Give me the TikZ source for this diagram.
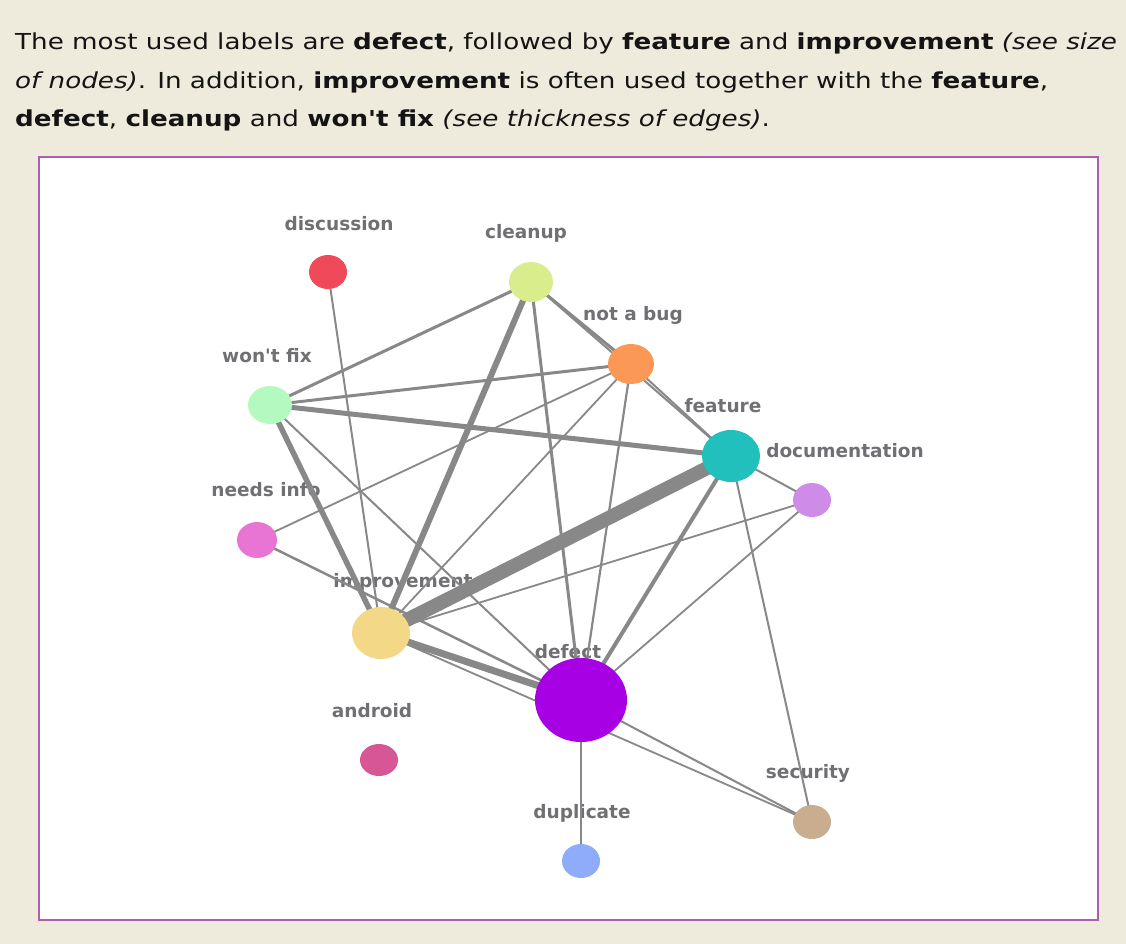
\documentclass[tikz,border=0pt]{standalone}
\usepackage{graphicx}
\usepackage{fontspec}
\setmainfont{DejaVu Sans}
\usetikzlibrary{shapes.geometric}
\pgfdeclarelayer{bg}
\pgfdeclarelayer{labels}
\pgfdeclarelayer{edges}
\pgfsetlayers{bg,labels,edges,main}
\definecolor{bgcol}{RGB}{238,234,220}
\definecolor{boxcol}{RGB}{176,92,176}
\definecolor{edgecol}{RGB}{136,136,136}
\definecolor{labcol}{RGB}{112,112,116}
\definecolor{cdiscussion}{RGB}{240,74,90}
\definecolor{ccleanup}{RGB}{218,237,140}
\definecolor{cnotabug}{RGB}{252,152,85}
\definecolor{cwontfix}{RGB}{180,250,192}
\definecolor{cfeature}{RGB}{34,192,188}
\definecolor{cdoc}{RGB}{206,140,232}
\definecolor{cneeds}{RGB}{232,116,212}
\definecolor{cimpr}{RGB}{242,216,135}
\definecolor{cdefect}{RGB}{168,0,228}
\definecolor{candroid}{RGB}{214,86,150}
\definecolor{csecurity}{RGB}{202,172,142}
\definecolor{cdup}{RGB}{143,172,250}
\newcommand{\hstretch}[1]{\scalebox{1.19}[1]{#1}}
\tikzset{
  x=1pt, y=-1pt,
  hdr/.style={anchor=base west, inner sep=0pt, text=black!92, font=\fontsize{22}{28}\selectfont},
  lab/.style={inner sep=0pt, text=labcol, font=\bfseries\fontsize{18.5}{22}\selectfont},
  gnode/.style={ellipse, draw=none, inner sep=0pt},
  edge/.style={draw=edgecol, line width=#1},
  edge/.default=2
}
\begin{document}
\begin{tikzpicture}
\begin{pgfonlayer}{bg}
\fill[bgcol] (0,0) rectangle (1126,944);
\draw[boxcol, line width=2, fill=white] (39,157) rectangle (1098,920);
\end{pgfonlayer}
% header
\node[hdr] (h1) at (15,50) {\hstretch{The most used labels are \textbf{defect}, followed by \textbf{feature} and \textbf{improvement} \textit{(see size}}};
\node[hdr] (h2) at (15,89) {\hstretch{\textit{of nodes)}. In addition, \textbf{improvement} is often used together with the \textbf{feature},}};
\node[hdr] (h3) at (15,127) {\hstretch{\textbf{defect}, \textbf{cleanup} and \textbf{won\textquotesingle t fix} \textit{(see thickness of edges)}.}};
% nodes
\node[gnode, fill=cdiscussion, minimum width=38, minimum height=34] (discussion) at (328,272) {};
\node[gnode, fill=ccleanup, minimum width=44, minimum height=40] (cleanup) at (531,282) {};
\node[gnode, fill=cnotabug, minimum width=46, minimum height=40] (notabug) at (631,364) {};
\node[gnode, fill=cwontfix, minimum width=44, minimum height=38] (wontfix) at (270,405) {};
\node[gnode, fill=cfeature, minimum width=58, minimum height=52] (feature) at (731,456) {};
\node[gnode, fill=cdoc, minimum width=38, minimum height=34] (documentation) at (812,500) {};
\node[gnode, fill=cneeds, minimum width=40, minimum height=36] (needsinfo) at (257,540) {};
\node[gnode, fill=cimpr, minimum width=58, minimum height=52] (improvement) at (381,633) {};
\node[gnode, fill=cdefect, minimum width=92, minimum height=84] (defect) at (581,700) {};
\node[gnode, fill=candroid, minimum width=38, minimum height=32] (android) at (379,760) {};
\node[gnode, fill=csecurity, minimum width=38, minimum height=34] (security) at (812,822) {};
\node[gnode, fill=cdup, minimum width=38, minimum height=34] (duplicate) at (581,861) {};
% labels
\begin{pgfonlayer}{labels}
\node[lab] (l-discussion) at (339,224) {discussion};
\node[lab] (l-cleanup) at (526,233) {cleanup};
\node[lab] (l-notabug) at (633,315) {not a bug};
\node[lab] (l-wontfix) at (267,356) {won\textquotesingle t fix};
\node[lab] (l-feature) at (723,406) {feature};
\node[lab] (l-documentation) at (845,451) {documentation};
\node[lab] (l-needsinfo) at (266,490) {needs info};
\node[lab] (l-improvement) at (403,582) {improvement};
\node[lab] (l-defect) at (568,652) {defect};
\node[lab] (l-android) at (372,711) {android};
\node[lab] (l-security) at (808,773) {security};
\node[lab] (l-duplicate) at (582,813) {duplicate};
\end{pgfonlayer}
% edges
\begin{pgfonlayer}{edges}
\draw[edge=2] (discussion.center) -- (improvement.center);
\draw[edge=3] (cleanup.center) -- (wontfix.center);
\draw[edge=6] (cleanup.center) -- (improvement.center);
\draw[edge=3] (cleanup.center) -- (defect.center);
\draw[edge=3] (cleanup.center) -- (notabug.center);
\draw[edge=2] (cleanup.center) -- (feature.center);
\draw[edge=2] (notabug.center) -- (feature.center);
\draw[edge=3] (wontfix.center) -- (notabug.center);
\draw[edge=5] (wontfix.center) -- (feature.center);
\draw[edge=5.5] (wontfix.center) -- (improvement.center);
\draw[edge=2] (wontfix.center) -- (defect.center);
\draw[edge=1.8] (needsinfo.center) -- (notabug.center);
\draw[edge=2.5] (needsinfo.center) -- (defect.center);
\draw[edge=1.8] (notabug.center) -- (improvement.center);
\draw[edge=2.2] (notabug.center) -- (defect.center);
\draw[edge=14] (feature.center) -- (improvement.center);
\draw[edge=4] (feature.center) -- (defect.center);
\draw[edge=2] (feature.center) -- (documentation.center);
\draw[edge=2] (feature.center) -- (security.center);
\draw[edge=1.8] (documentation.center) -- (improvement.center);
\draw[edge=1.8] (documentation.center) -- (defect.center);
\draw[edge=7] (improvement.center) -- (defect.center);
\draw[edge=1.8] (improvement.center) -- (security.center);
\draw[edge=2] (defect.center) -- (duplicate.center);
\draw[edge=2] (defect.center) -- (security.center);
\end{pgfonlayer}
\end{tikzpicture}
\end{document}
